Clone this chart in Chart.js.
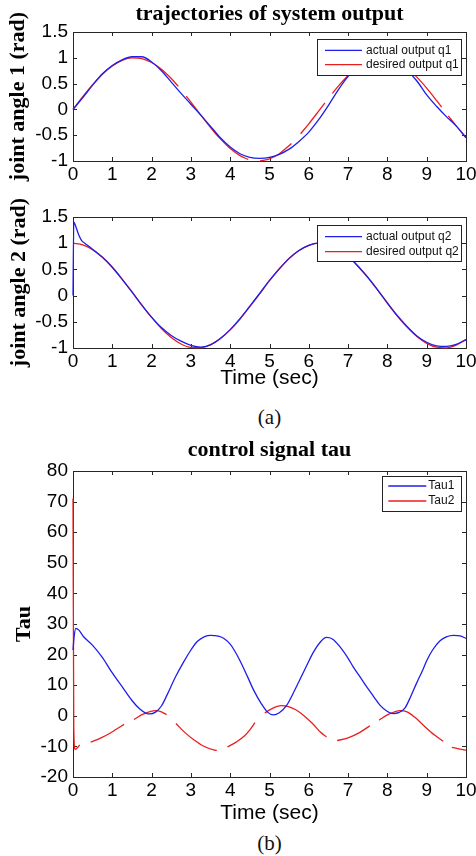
<!DOCTYPE html>
<html>
<head>
<meta charset="utf-8">
<script src="https://cdn.jsdelivr.net/npm/chart.js@4.4.1/dist/chart.umd.min.js"></script>
<style>
  html, body { margin: 0; padding: 0; background: #fff; }
  body { width: 476px; height: 856px; position: relative; overflow: hidden; }
  canvas { position: absolute; left: 0; }
  .cap { position: absolute; left: 0; width: 539px; text-align: center; font: 21px "Liberation Serif", "Times New Roman", serif; color: #111; line-height: 24px; }
</style>
</head>
<body>
<canvas id="chartQ1" width="490" height="190" style="top:0px"></canvas>
<canvas id="chartQ2" width="490" height="210" style="top:190px"></canvas>
<div class="cap" style="top:405px">(a)</div>
<canvas id="chartTau" width="490" height="394" style="top:436px"></canvas>
<div class="cap" style="top:831px">(b)</div>
<script>
// tick labels
const xTickValues = [0, 1, 2, 3, 4, 5, 6, 7, 8, 9, 10];
const angleTickValues = [-1, -0.5, 0, 0.5, 1, 1.5];
const tauTickValues = [-20, -10, 0, 10, 20, 30, 40, 50, 60, 70, 80];

// series names
const q1Names = ['actual output q1', 'desired output q1'];
const q2Names = ['actual output q2', 'desired output q2'];
const tauNames = ['Tau1', 'Tau2'];

// time grid (sec) shared by some series
const tGrid = [0, 0.25, 0.5, 0.75, 1, 1.25, 1.5, 1.75, 2, 2.25, 2.5, 2.75, 3, 3.25, 3.5, 3.75, 4, 4.25, 4.5, 4.75,
  5, 5.25, 5.5, 5.75, 6, 6.25, 6.5, 6.75, 7, 7.25, 7.5, 7.75, 8, 8.25, 8.5, 8.75, 9, 9.25, 9.5, 9.75, 10];

// joint 1
const q1Actual = [0, 0.23, 0.47, 0.69, 0.85, 0.96, 1.02, 1.02, 0.92, 0.75, 0.53, 0.31, 0.1, -0.11, -0.33, -0.55, -0.73, -0.86, -0.93, -0.95,
  -0.93, -0.87, -0.77, -0.62, -0.44, -0.2, 0.08, 0.38, 0.64, 0.84, 0.96, 1.0, 0.98, 0.9, 0.76, 0.55, 0.28, 0.06, -0.14, -0.32, -0.55];
const tQ1Desired = [0, 0.25, 0.5, 0.75, 1, 1.25, 1.5, 1.75, 2, 2.25, 2.5, 2.68, 2.78, 2.88, 3, 3.25, 3.5, 3.75, 4, 4.25, 4.46, 4.6, 4.76,
  5, 5.25, 5.56, 5.68, 5.79, 6, 6.25, 6.41, 6.5, 6.6, 6.75, 7, 7.25, 7.5, 7.75, 8, 8.25, 8.5, 8.75, 9, 9.25, 9.38, 9.47, 9.55, 9.75, 10];
const q1Desired = [0, 0.247, 0.479, 0.682, 0.841, 0.949, 0.997, 0.984, 0.909, 0.778, 0.598, 0.445, null, 0.259, 0.141, -0.108, -0.351, -0.572, -0.757, -0.895, -0.97, null, -0.999,
  -0.959, -0.859, -0.662, null, -0.472, -0.279, -0.033, 0.127, null, 0.312, 0.45, 0.657, 0.823, 0.938, 0.994, 0.989, 0.922, 0.798, 0.625, 0.412, 0.173, 0.044, null, -0.125, -0.32, -0.544];

// joint 2
const tQ2Actual = [0, 0.02, 0.08, 0.15, 0.22, 0.3, 0.47, 0.75, 1, 1.25, 1.5, 1.75, 2, 2.25, 2.5, 2.75, 3, 3.25, 3.5, 3.75, 4, 4.25, 4.5, 4.75,
  5, 5.25, 5.5, 5.75, 6, 6.25, 6.5, 6.75, 7, 7.25, 7.5, 7.75, 8, 8.25, 8.5, 8.75, 9, 9.25, 9.5, 9.75, 10];
const q2Actual = [0, 1.4, 1.3, 1.15, 1.05, 1.0, 0.9, 0.73, 0.54, 0.31, 0.07, -0.18, -0.41, -0.61, -0.76, -0.87, -0.95, -0.985, -0.94, -0.82, -0.65, -0.44, -0.2, 0.04,
  0.29, 0.51, 0.71, 0.86, 0.96, 1.0, 0.97, 0.89, 0.75, 0.56, 0.35, 0.11, -0.14, -0.38, -0.59, -0.77, -0.89, -0.96, -0.97, -0.93, -0.84];
const q2Desired = [1, 0.969, 0.878, 0.732, 0.54, 0.315, 0.071, -0.178, -0.416, -0.628, -0.801, -0.924, -0.99, -0.994, -0.936, -0.82, -0.654, -0.446, -0.211, 0.037,
  0.284, 0.512, 0.709, 0.861, 0.96, 1.0, 0.977, 0.894, 0.754, 0.565, 0.347, 0.108, -0.146, -0.386, -0.602, -0.781, -0.911, -0.985, -0.997, -0.947, -0.839];

// control signal
const tTau1 = [0, 0.03, 0.07, 0.15, 0.26, 0.5, 0.75, 1, 1.25, 1.5, 1.7, 1.85, 1.95, 2.1, 2.25, 2.4, 2.6, 2.82, 3, 3.16, 3.35, 3.5, 3.7, 3.85, 4,
  4.1, 4.25, 4.44, 4.6, 4.79, 4.95, 5.1, 5.25, 5.44, 5.6, 5.78, 5.95, 6.1, 6.3, 6.45, 6.6, 6.79, 7, 7.13, 7.3, 7.47, 7.65, 7.81, 8, 8.15,
  8.3, 8.45, 8.6, 8.74, 8.9, 9, 9.15, 9.34, 9.5, 9.68, 9.85, 10];
const tau1 = [21.5, 26, 28.6, 28, 26, 23, 19, 14, 9.5, 5, 2.2, 0.9, 0.6, 1.2, 3.2, 7, 12.5, 17.7, 21.5, 24.3, 25.9, 26.3, 26, 25.2, 23.4,
  21.5, 18, 12.8, 8.3, 4, 1.2, 0.3, 1, 3.5, 7.3, 12, 16.5, 20.4, 24.2, 25.6, 25.1, 22.6, 18.8, 16, 12.8, 9.5, 6.3, 3.5, 1.4, 0.7,
  1.1, 2.6, 6.5, 10.6, 15, 18, 21.5, 24.5, 25.8, 26.3, 26.1, 25.3];
const tTau2 = [0, 0.02, 0.05, 0.1, 0.17, 0.3, 0.45, 0.7, 0.94, 1.1, 1.3, 1.42, 1.55, 1.8, 2.1, 2.25, 2.38, 2.5, 2.62, 2.85, 3.08, 3.3, 3.6, 3.66, 3.8,
  3.93, 4.15, 4.36, 4.5, 4.63, 4.75, 4.88, 5.04, 5.3, 5.5, 5.69, 5.9, 6.1, 6.3, 6.45, 6.6, 6.72, 7, 7.3, 7.55, 7.67, 7.79, 8, 8.32, 8.5,
  8.7, 8.95, 9.2, 9.42, 9.53, 9.64, 9.85, 10];
const tau2 = [71, -4, -11, -10.6, -9.5, null, -8.6, -7.3, -5.7, -4.4, -2.8, null, -1.2, 0.6, 1.7, 1.3, 0.4, null, -2.5, -5.5, -7.9, -9.8, -11.2, -11.3, null,
  -10.2, -8.6, -6.6, -4.6, -2.2, null, 0.9, 2.2, 3.3, 2.9, 1.8, -0.2, -2.6, -5.4, -6.9, null, -8.1, -7.2, -5.4, -3.3, null, -1.4, 0.3, 1.7, 1.3,
  -0.5, -3.5, -6.3, -8.3, null, -10.3, -10.9, -11.2];

const BLUE = 'rgb(30,30,235)';
const RED = 'rgb(235,30,30)';
const SANS = '"Liberation Sans", Arial, sans-serif';
const SERIF = '"Liberation Serif", "Times New Roman", serif';

Chart.defaults.font.family = SANS;
Chart.defaults.color = '#000';

function pts(ts, vs) {
  return ts.map((t, i) => ({ x: t, y: vs[i] }));
}

function serie(label, ts, vs, color) {
  return {
    label,
    data: pts(ts, vs),
    borderColor: color,
    borderWidth: 1.3,
    pointRadius: 0,
    fill: false,
    spanGaps: false,
    clip: { left: 2, top: 1, right: 1, bottom: 1 },
    cubicInterpolationMode: 'monotone'
  };
}

// box with inward ticks on all four sides, MATLAB style (drawn under the lines)
const frameTicks = {
  id: 'frameTicks',
  beforeDatasetsDraw(chart) {
    const { ctx, chartArea: a, scales: { x, y } } = chart;
    const L = 4;
    ctx.save();
    ctx.strokeStyle = '#262626';
    ctx.lineWidth = 1;
    ctx.beginPath();
    x.ticks.forEach(t => {
      const px = Math.round(x.getPixelForValue(t.value)) + 0.5;
      ctx.moveTo(px, a.bottom); ctx.lineTo(px, a.bottom - L);
      ctx.moveTo(px, a.top); ctx.lineTo(px, a.top + L);
    });
    y.ticks.forEach(t => {
      const py = Math.round(y.getPixelForValue(t.value)) + 0.5;
      ctx.moveTo(a.left, py); ctx.lineTo(a.left + L, py);
      ctx.moveTo(a.right, py); ctx.lineTo(a.right - L, py);
    });
    ctx.stroke();
    ctx.strokeRect(Math.round(a.left) + 0.5, Math.round(a.top) + 0.5, Math.round(a.right - a.left), Math.round(a.bottom - a.top));
    ctx.restore();
  }
};

// legend drawn in a box inside the plot
const boxLegend = {
  id: 'boxLegend',
  afterDatasetsDraw(chart, args, o) {
    const { ctx, chartArea: a } = chart;
    const x0 = Math.round(a.right - o.right - o.width);
    const y0 = Math.round(a.top + o.top);
    ctx.save();
    ctx.fillStyle = '#fff';
    ctx.fillRect(x0, y0, o.width, o.height);
    ctx.strokeStyle = '#222';
    ctx.lineWidth = 1;
    ctx.strokeRect(x0 + 0.5, y0 + 0.5, o.width, o.height);
    ctx.font = '12px ' + SANS;
    ctx.textBaseline = 'middle';
    chart.data.datasets.forEach((ds, i) => {
      const ry = y0 + o.rows[i];
      ctx.strokeStyle = ds.borderColor;
      ctx.lineWidth = 1.3;
      ctx.beginPath();
      ctx.moveTo(x0 + o.lineFrom, ry);
      ctx.lineTo(x0 + o.lineTo, ry);
      ctx.stroke();
      ctx.fillStyle = '#111';
      ctx.fillText(ds.label, x0 + o.textAt, ry);
    });
    ctx.restore();
  }
};

function makeChart(id, c) {
  return new Chart(document.getElementById(id), {
    type: 'line',
    data: { datasets: c.datasets },
    plugins: [frameTicks, boxLegend],
    options: {
      responsive: false,
      animation: false,
      events: [],
      layout: { padding: { left: 0, right: 24, top: c.padTop, bottom: 0 } },
      plugins: {
        legend: { display: false },
        tooltip: { enabled: false },
        title: {
          display: !!c.title,
          text: c.title || '',
          fullSize: false,
          color: '#000',
          font: { family: SERIF, size: 22, weight: 'bold', lineHeight: 1.2 },
          padding: { top: 1, bottom: c.titleGap || 0 }
        },
        boxLegend: c.legend
      },
      scales: {
        x: {
          type: 'linear',
          min: 0,
          max: 10,
          afterBuildTicks: s => { s.ticks = xTickValues.map(v => ({ value: v })); },
          afterFit: s => { s.height = c.xHeight; },
          grid: { display: false, drawTicks: false },
          border: { display: false },
          ticks: { padding: 2, autoSkip: false, maxRotation: 0, font: { size: 19 }, color: '#000', callback: v => String(v) },
          title: {
            display: !!c.xTitle,
            text: c.xTitle || '',
            color: '#000',
            font: { family: SANS, size: 21, lineHeight: 1.2 },
            padding: { top: 0, bottom: c.xTitlePad || 0 }
          }
        },
        y: {
          type: 'linear',
          min: c.yTicks[0],
          max: c.yTicks[c.yTicks.length - 1],
          afterBuildTicks: s => { s.ticks = c.yTicks.map(v => ({ value: v })); },
          afterFit: s => { s.width = 73; },
          grid: { display: false, drawTicks: false },
          border: { display: false },
          ticks: { padding: 5, font: { size: 19 }, color: '#000', callback: v => String(v) },
          title: {
            display: true,
            text: c.yTitle,
            color: '#000',
            font: { family: SERIF, size: 22, weight: 'bold', lineHeight: 1.2 },
            padding: { top: c.yTitlePad, bottom: 0 }
          }
        }
      }
    }
  });
}

makeChart('chartQ1', {
  title: 'trajectories of system output',
  titleGap: 4.6,
  padTop: 0,
  xHeight: 29,
  yTicks: angleTickValues,
  yTitle: 'joint angle 1 (rad)',
  yTitlePad: 5.5,
  legend: { right: 5, width: 144, top: 7, height: 36, rows: [11.3, 25.6], lineFrom: 8, lineTo: 45, textAt: 49 },
  datasets: [
    serie(q1Names[0], tGrid, q1Actual, BLUE),
    serie(q1Names[1], tQ1Desired, q1Desired, RED)
  ]
});

makeChart('chartQ2', {
  padTop: 27,
  xHeight: 52,
  xTitle: 'Time (sec)',
  xTitlePad: 9.4,
  yTicks: angleTickValues,
  yTitle: 'joint angle 2 (rad)',
  yTitlePad: 6,
  legend: { right: 5, width: 144, top: 8, height: 36, rows: [11.7, 26.7], lineFrom: 8, lineTo: 45, textAt: 49 },
  datasets: [
    serie(q2Names[0], tQ2Actual, q2Actual, BLUE),
    serie(q2Names[1], tGrid, q2Desired, RED)
  ]
});

makeChart('chartTau', {
  title: 'control signal tau',
  titleGap: 7.6,
  padTop: 0,
  xHeight: 53,
  xTitle: 'Time (sec)',
  xTitlePad: 4.4,
  yTicks: tauTickValues,
  yTitle: 'Tau',
  yTitlePad: 11.5,
  legend: { right: 5, width: 79, top: 5, height: 35, rows: [10, 25], lineFrom: 6.3, lineTo: 44.3, textAt: 46.3 },
  datasets: [
    serie(tauNames[0], tTau1, tau1, BLUE),
    serie(tauNames[1], tTau2, tau2, RED)
  ]
});
</script>
</body>
</html>
